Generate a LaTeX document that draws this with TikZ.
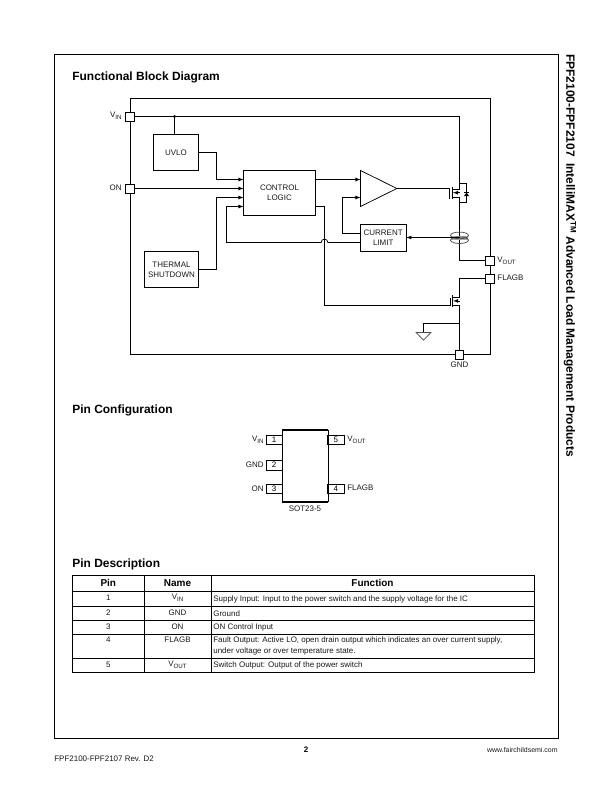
\documentclass[tikz,border=0pt]{standalone}
\usepackage{fontspec}
\setmainfont{Liberation Sans}
\newcommand{\smalltxt}{\fontsize{8}{10}\selectfont}
\newcommand{\headtxt}{\fontsize{10}{12}\selectfont\bfseries}
\newcommand{\titletxt}{\fontsize{12}{14}\selectfont\bfseries}
\newcommand{\lowtxt}[1]{\raisebox{-1.6bp}{\fontsize{6.2}{7}\selectfont #1}}
\begin{document}
\begin{tikzpicture}[
        x=1bp, y=-1bp,
        line width=0.75bp,
        block/.style={draw, inner sep=0pt, align=center, font=\smalltxt, text=black!90},
        pinbox/.style={draw, fill=white, minimum width=8.6bp, minimum height=9bp, inner sep=0pt},
        pinnum/.style={draw, fill=white, minimum width=16.3bp, minimum height=9.6bp, inner sep=0pt, font=\smalltxt},
        label/.style={inner sep=0pt, font=\smalltxt, text=black!90},
        title/.style={inner sep=0pt, anchor=west, font=\titletxt},
        arrow/.style={->, >=latex}
    ]
    \useasboundingbox (0,0) rectangle (612,792);

    % Page frame and headings
    \draw[line width=1bp] (54,54.5) rectangle (558,738.5);
    \node[title] (title1) at (72,77.3) {Functional Block Diagram};
    \node[title] (title2) at (72,410.3) {Pin Configuration};
    \node[title] (title3) at (72,564.3) {Pin Description};
    \node[inner sep=0pt, anchor=west, rotate=-90, font=\titletxt] (side) at (570,54)
        {FPF2100-FPF2107\ \ IntelliMAX\textsuperscript{TM} Advanced Load Management Products};

    % Outer package outline
    \draw (130.5,98.5) rectangle (490.5,354.5);

    % Pins of the block diagram
    \node[pinbox] (vin) at (130,116.5) {};
    \node[pinbox] (on) at (130,188.5) {};
    \node[pinbox] (vout) at (490,260.5) {};
    \node[pinbox] (flagb) at (490,278.5) {};
    \node[pinbox] (gnd) at (459.5,354.5) {};
    \node[label, anchor=east] (vinlab) at (122,116) {V\lowtxt{IN}};
    \node[label, anchor=east] (onlab) at (122,188) {ON};
    \node[label, anchor=west] (voutlab) at (497,261) {V\lowtxt{OUT}};
    \node[label, anchor=west] (flagblab) at (497,278) {FLAGB};
    \node[label] (gndlab) at (459.5,365) {GND};

    % Blocks
    \node[block, minimum width=45bp, minimum height=36bp] (uvlo) at (176,152.5) {UVLO};
    \node[block, minimum width=54bp, minimum height=36bp] (thermal) at (171.5,269.5) {THERMAL\\SHUTDOWN};
    \node[block, minimum width=72bp, minimum height=45bp] (control) at (279.5,193) {CONTROL\\LOGIC};
    \node[block, minimum width=45.4bp, minimum height=27bp] (limit) at (383.2,238) {CURRENT\\LIMIT};

    % Amplifier
    \coordinate (amptop) at (360.5,170.5);
    \coordinate (ampbot) at (360.5,206.5);
    \coordinate (amptip) at (396.9,188.5);
    \draw (amptop) -- (amptip) -- (ampbot) -- cycle;

    % Supply rail and dot
    \coordinate (vindot) at (174.5,116.5);
    \coordinate (railend) at (459.5,116.5);
    \coordinate (fet1top) at (459.5,189);
    \coordinate (fet1bot) at (459.5,197.5);
    \coordinate (voutcor) at (459.5,260.5);
    \draw (vin) -- (vindot) -- (railend) -- (fet1top);
    \fill (vindot) circle (1.7);
    \draw (vindot) -- (uvlo.north -| vindot);
    \draw (fet1bot) -- (voutcor) -- (vout);

    % Arrows into control logic
    \draw[arrow] (uvlo.east) -- (216.5,152.5) -- (216.5,179.5) -- (243.5,179.5);
    \draw[arrow] (on) -- (243.5,188.5);
    \draw[arrow] (thermal.east) -- (216.5,269.5) -- (216.5,197.5) -- (243.5,197.5);
    \draw[arrow] (360.5,242.5) -- (327.9,242.5) arc (0:-180:3.4) -- (226.5,242.5) -- (226.5,206.5) -- (243.5,206.5);

    % Control logic to amplifier and bottom switch
    \draw[arrow] (315.5,179.5) -- (360.5,179.5);
    \draw (315.5,206.5) -- (324.5,206.5) -- (324.5,305.5) -- (450,305.5);
    \draw[arrow] (360.5,233.5) -- (342.5,233.5) -- (342.5,197.5) -- (360.5,197.5);
    \draw (amptip) -- (449.5,188.5);

    % Top switch
    \draw (449.5,188.5) -- (449.5,198.5);
    \draw (451.9,187) -- (451.9,199);
    \draw (451.9,189) -- (459.5,189);
    \draw (451.9,197.5) -- (459.5,197.5);
    \draw[arrow] (459.5,192.7) -- (453,192.7);
    \draw (459.5,183.5) -- (466.5,183.5) -- (466.5,202.5) -- (459.5,202.5);
    \fill (466.5,192.5) -- (464,196) -- (469,196) -- cycle;
    \draw (464,192.5) -- (469,192.5);

    % Current sense
    \fill[black!35] (450.7,235.7) rectangle (468.2,239.7);
    \draw[black!70] (459.5,235.4) ellipse (9 and 3.3);
    \draw[black!70] (459.5,240.2) ellipse (9 and 3.3);
    \draw[arrow] (459.5,237.5) -- (limit.east |- 459.5,237.5);

    % Bottom switch
    \draw (450,298) -- (450,305.5);
    \draw (452.5,295) -- (452.5,306.9);
    \draw (flagb) -- (459.5,278.5) -- (459.5,296.9) -- (452.5,296.9);
    \draw (452.5,305.5) -- (459.5,305.5) -- (gnd);
    \draw[arrow] (459.5,300.9) -- (453,300.9);

    % Ground symbol
    \draw (459.5,323.5) -- (423.5,323.5) -- (423.5,332.5);
    \draw[black!70] (416.2,332.5) -- (430.9,332.5) -- (423.5,340.2) -- cycle;

    % Pin configuration
    \node[pinnum] (p1) at (274.2,440) {1};
    \node[pinnum] (p2) at (274.2,465.2) {2};
    \node[pinnum] (p3) at (274.2,489) {3};
    \node[pinnum] (p5) at (335.8,440) {5};
    \node[pinnum] (p4) at (335.8,489) {4};
    \draw (282.5,430) -- (282.5,501.7) (327.9,430) -- (327.9,501.7);
    \draw[line width=1.6bp] (282,430) -- (328.2,430) (282,501.7) -- (328.2,501.7);
    \node[label, anchor=east] (n1) at (264,440) {V\lowtxt{IN}};
    \node[label, anchor=east] (n2) at (264,465) {GND};
    \node[label, anchor=east] (n3) at (264,489) {ON};
    \node[label, anchor=west] (n5) at (347,440) {V\lowtxt{OUT}};
    \node[label, anchor=west] (n4) at (347,488) {FLAGB};
    \node[label] (pkg) at (305,508.5) {SOT23-5};

    % Pin table
    \draw (72.5,575.5) rectangle (534.5,672.5);
    \foreach \y in {606.5,620.5,634.5,658.5}
        \draw (72.5,\y) -- (534.5,\y);
    \draw[line width=1bp] (72.5,591.5) -- (534.5,591.5);
    \foreach \x in {144.5,210.9}
        \draw (\x,575.5) -- (\x,672.5);
    \node[inner sep=0pt, font=\headtxt] (hpin) at (108.3,582.8) {Pin};
    \node[inner sep=0pt, font=\headtxt] (hname) at (177.5,582.8) {Name};
    \node[inner sep=0pt, font=\headtxt] (hfunc) at (372.5,582.8) {Function};
    \foreach \i/\y/\nm in {1/598/V\lowtxt{IN}, 2/612.5/GND, 3/626.5/ON, 4/640/FLAGB, 5/664.5/V\lowtxt{OUT}} {
        \node[label] (pin\i) at (108.3,\y) {\i};
        \node[label] (name\i) at (177.5,\y) {\nm};
    }
    \node[label, anchor=west] (func1) at (213,599.8) {Supply Input: Input to the power switch and the supply voltage for the IC};
    \node[label, anchor=west] (func2) at (213,613.3) {Ground};
    \node[label, anchor=west] (func3) at (213,627.3) {ON Control Input};
    \node[label, anchor=west] (func4) at (213,640.8) {Fault Output: Active LO, open drain output which indicates an over current supply,};
    \node[label, anchor=west] (func4b) at (213,651) {under voltage or over temperature state.};
    \node[label, anchor=west] (func5) at (213,665.3) {Switch Output: Output of the power switch};

    % Footer
    \node[inner sep=0pt, font=\smalltxt\bfseries] (pageno) at (306,750) {2};
    \node[label, anchor=east, font=\fontsize{7}{9}\selectfont] (web) at (558,750) {www.fairchildsemi.com};
    \node[label, anchor=west] (rev) at (54,759) {FPF2100-FPF2107 Rev. D2};
\end{tikzpicture}
\end{document}
